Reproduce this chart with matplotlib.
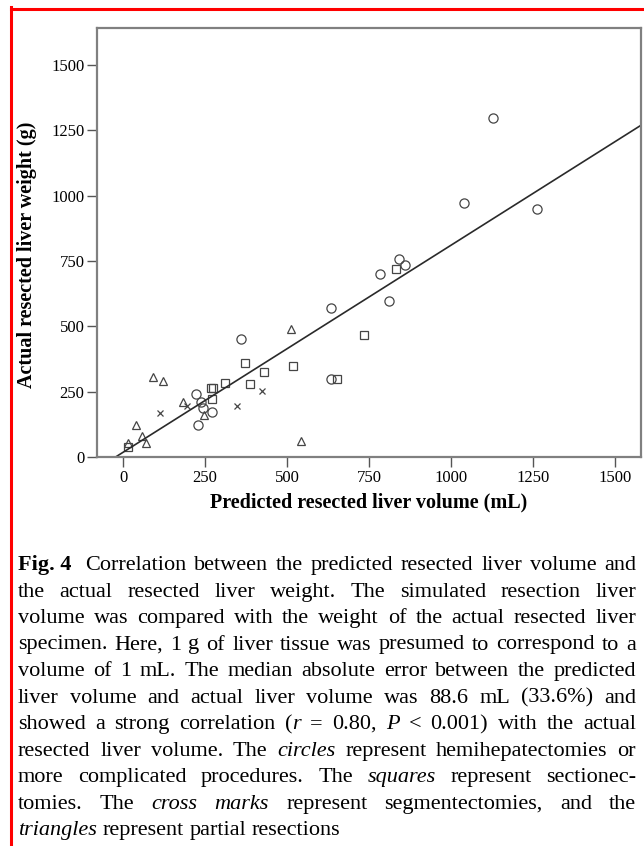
import matplotlib.pyplot as plt
from matplotlib.lines import Line2D
import numpy as np

plt.rcParams['font.family'] = ['Liberation Serif', 'DejaVu Serif']

# --- Datos ---
# círculos: hemihepatectomías
circ_x = [1128, 1039, 1262, 842, 860, 784, 812, 634, 634, 358, 222, 236, 242, 272, 229]
circ_y = [1297, 974, 949, 758, 735, 699, 598, 569, 299, 453, 241, 212, 189, 173, 122]
# cuadrados: seccionectomías
sq_x = [832, 736, 652, 518, 430, 372, 386, 312, 267, 274, 272, 15]
sq_y = [720, 468, 299, 349, 324, 359, 279, 282, 263, 263, 221, 40]
# cruces: segmentectomías
cr_x = [111, 194, 346, 422]
cr_y = [167, 196, 196, 254]
# triángulos: resecciones parciales
tri_x = [511, 90, 121, 181, 247, 40, 57, 70, 16, 541]
tri_y = [490, 307, 292, 210, 161, 121, 82, 52, 55, 61]

# recta de regresión
fit_b0 = 18.4
fit_b1 = 0.792

x_ticks = [0, 250, 500, 750, 1000, 1250, 1500]
y_ticks = [0, 250, 500, 750, 1000, 1250, 1500]

caption = [
    "^Fig.~4^ Correlation between the predicted resected liver volume and",
    "the actual resected liver weight. The simulated resection liver",
    "volume was compared with the weight of the actual resected liver",
    "specimen. Here, 1 g of liver tissue was presumed to correspond to a",
    "volume of 1 mL. The median absolute error between the predicted",
    "liver volume and actual liver volume was 88.6 mL (33.6%) and",
    "showed a strong correlation (_r_ = 0.80, _P_ < 0.001) with the actual",
    "resected liver volume. The _circles_ represent hemihepatectomies or",
    "more complicated procedures. The _squares_ represent sectionec-",
    "tomies. The _cross_ _marks_ represent segmentectomies, and the",
    "_triangles_ represent partial resections",
]

W, H = 644, 846
fig = plt.figure(figsize=(W / 100, H / 100), dpi=100)
ax = fig.add_axes([97 / W, 1 - 457 / H, (641 - 97) / W, (457 - 28) / H])

mk = dict(linestyle='none', mfc='none', mec='#454545', mew=0.9)
ax.plot(circ_x, circ_y, marker='o', ms=6.6, **mk)
ax.plot(sq_x, sq_y, marker='s', ms=6, **mk)
ax.plot(cr_x, cr_y, marker='x', ms=4.2, **mk)
ax.plot(tri_x, tri_y, marker='^', ms=5.2, **mk)

xx = np.array([-80, 1580])
ax.plot(xx, fit_b0 + fit_b1 * xx, color='#2a2a2a', lw=1.2)

ax.set_xlim(-80, 1580)
ax.set_ylim(0, 1642)
ax.set_xticks(x_ticks)
ax.set_yticks(y_ticks)
ax.tick_params(direction='out', length=7, width=1, color='#555555',
               labelsize=12, pad=2)
for s in ax.spines.values():
    s.set_color('#808080')
    s.set_linewidth(1.6)

ax.set_xlabel("Predicted resected liver volume (mL)", fontsize=14.5,
              fontweight='bold', labelpad=5)
ax.set_ylabel("Actual resected liver weight (g)", fontsize=14.5,
              fontweight='bold')
ax.yaxis.set_label_coords(-0.11, 0.471)

# marco rojo (arriba e izquierda)
fig.add_artist(Line2D([11 / W, 11 / W], [0, 1 - 7 / H], color='red', lw=2.2,
                      transform=fig.transFigure))
fig.add_artist(Line2D([11 / W, 1], [1 - 9 / H, 1 - 9 / H], color='red', lw=2.2,
                      transform=fig.transFigure))

# --- Pie de figura justificado ---
STY = {(False, False): {}, (True, False): {'fontstyle': 'italic'},
       (False, True): {'fontweight': 'bold'}}
renderer = fig.canvas.get_renderer()


def parse(word):
    pieces, cur, it, bd = [], "", False, False
    for ch in word:
        if ch in "_^":
            if cur:
                pieces.append((cur.replace("~", " "), it, bd))
            cur = ""
            if ch == "_":
                it = not it
            else:
                bd = not bd
        else:
            cur += ch
    if cur:
        pieces.append((cur.replace("~", " "), it, bd))
    return pieces


def pw(txt, it, bd, size):
    t = fig.text(0, 0, txt, fontsize=size, **STY[(it, bd)])
    w = t.get_window_extent(renderer).width
    t.remove()
    return w


lines = [[parse(w) for w in ln.split(" ")] for ln in caption]
x_left, x_right = 18, 636
fig_gap = 6  # espacio extra tras "Fig. 4"


def natural(ln, size):
    sp = pw("a a", False, False, size) - pw("aa", False, False, size)
    ws = [sum(pw(p[0], p[1], p[2], size) for p in w) for w in ln]
    return sum(ws) + sp * (len(ws) - 1), ws, sp


ref = max(natural(ln, 10)[0] for ln in lines[:-1])
fsize = 10 * (x_right - x_left - fig_gap) * 0.985 / ref

for i, ln in enumerate(lines):
    tot, ws, sp = natural(ln, fsize)
    extra = fig_gap if i == 0 else 0
    if i < len(lines) - 1:
        gap = (x_right - x_left - extra - sum(ws)) / (len(ws) - 1)
    else:
        gap = sp
    yb = 570 + 26.5 * i
    x = x_left
    for j, (w, wd) in enumerate(zip(ln, ws)):
        xp = x
        for txt, it, bd in w:
            fig.text(xp / W, 1 - yb / H, txt, fontsize=fsize, va='baseline',
                     ha='left', **STY[(it, bd)])
            xp += pw(txt, it, bd, fsize)
        x += wd + gap + (extra if j == 0 else 0)

fig.savefig("out.png", dpi=100)
